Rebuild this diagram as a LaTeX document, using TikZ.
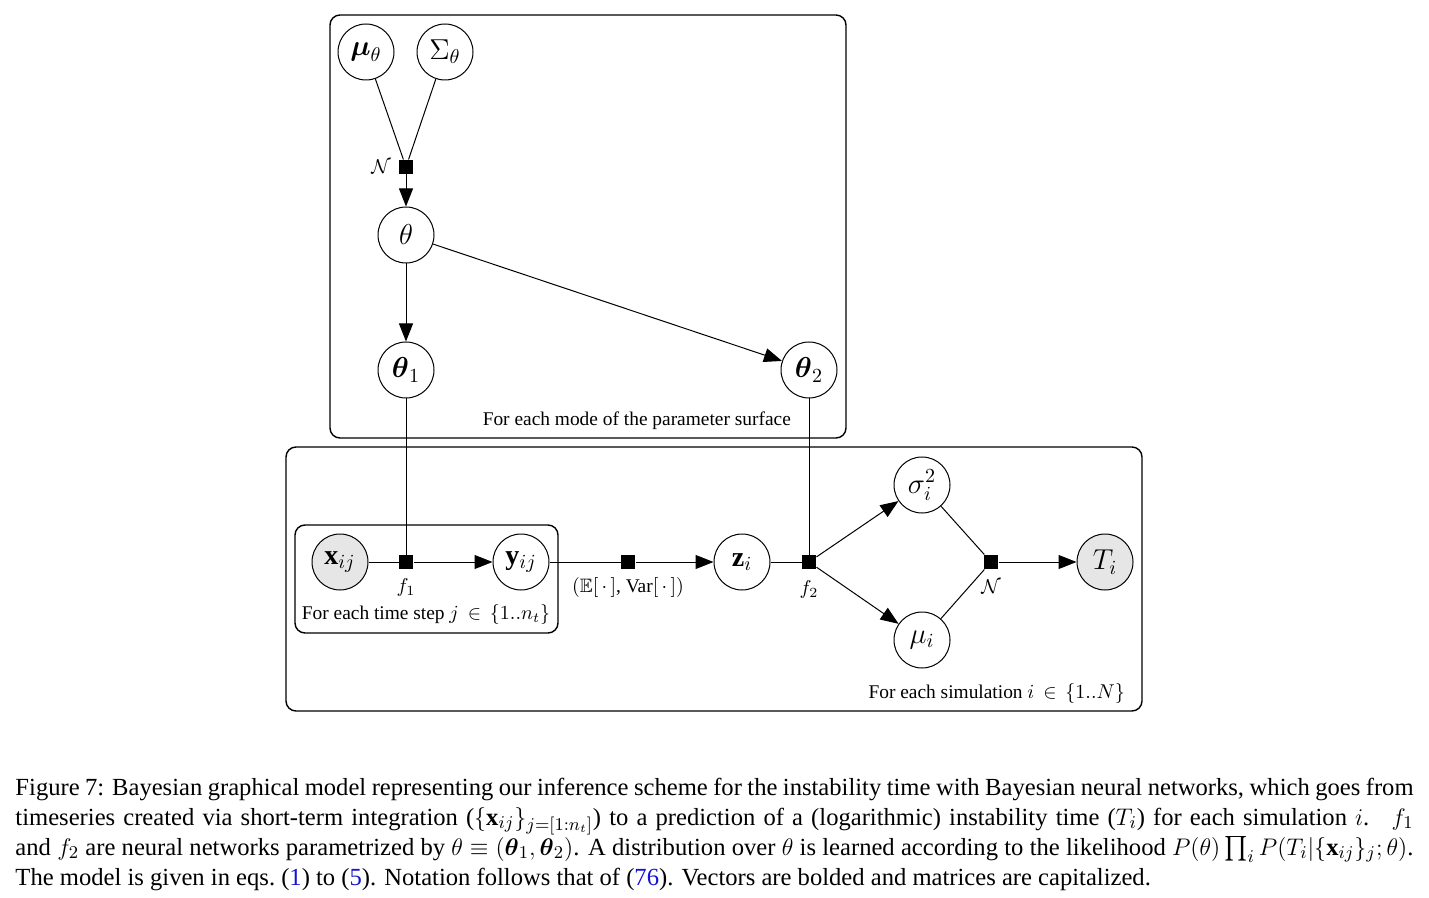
\documentclass[tikz,border=0pt]{standalone}
\usepackage{amsmath,amssymb}
\usepackage{fontspec}
\setmainfont{Liberation Serif}
\usetikzlibrary{positioning,arrows.meta}
\definecolor{ObsGray}{RGB}{230,230,230}
\definecolor{RefBlue}{RGB}{20,20,210}

\begin{document}
\begin{tikzpicture}[x=0.5pt, y=-0.5pt, line width=0.5pt,
  every node/.style={font=\fontsize{9.7}{12}\selectfont},
  latent/.style={draw, circle, minimum size=28pt, inner sep=0pt, fill=white, font=\fontsize{14}{16}\selectfont},
  obs/.style={latent, fill=ObsGray},
  factor/.style={fill=black, rectangle, minimum size=7pt, inner sep=0pt},
  plate/.style={draw, rounded corners=5pt, line width=0.7pt},
  arr/.style={-{Triangle[length=9pt,width=7pt]}},
  caption/.style={anchor=base west, inner sep=0pt, font=\fontsize{12.3}{14}\selectfont}]
  \useasboundingbox (0,0) rectangle (1429,898);

  % plates
  \draw[plate] (330,15) rectangle (846,438);
  \draw[plate] (286,447) rectangle (1142,711);
  \draw[plate] (295,525) rectangle (558,633);
  \node[anchor=base east] (modelab) at (798,426) {For each mode of the parameter surface};
  \node[anchor=base] (steplab) at (426,619) {For each time step $j\,\in\,\{1..n_t\}$};
  \node[anchor=base east] (simlab) at (1132,698) {For each simulation $i\,\in\,\{1..N\}$};

  % parameters
  \node[latent] (mu) at (366,52) {$\boldsymbol{\mu}_\theta$};
  \node[latent] (Sig) at (445,52) {$\Sigma_\theta$};
  \node[factor] (nt) at (406,167) {};
  \node (ntlab) at (381,167) {$\mathcal{N}$};
  \node[latent] (theta) at (406,235) {$\theta$};
  \node[latent] (th1) at (406,370) {$\boldsymbol{\theta}_1$};
  \node[latent] (th2) at (809,370) {$\boldsymbol{\theta}_2$};

  % per simulation
  \node[obs] (x) at (340,562) {$\mathbf{x}_{ij}$};
  \node[factor] (f1) at (406,562) {};
  \node (f1lab) at (406,587) {$f_1$};
  \node[latent] (y) at (521,562) {$\mathbf{y}_{ij}$};
  \node[factor] (agg) at (628,562) {};
  \node (agglab) at (628,587) {$(\mathbb{E}[\,\cdot\,]$, Var$[\,\cdot\,])$};
  \node[latent] (z) at (742,562) {$\mathbf{z}_i$};
  \node[factor] (f2) at (809,562) {};
  \node (f2lab) at (809,589) {$f_2$};
  \node[latent] (sig) at (922,485) {$\sigma_i^2$};
  \node[latent] (mui) at (922,640) {$\mu_i$};
  \node[factor] (nT) at (991,562) {};
  \node (nTlab) at (991,587) {$\mathcal{N}$};
  \node[obs] (T) at (1105,562) {$T_i$};

  \draw (mu) -- (nt);
  \draw (Sig) -- (nt);
  \draw[arr] (nt) -- (theta);
  \draw[arr] (theta) -- (th1);
  \draw[arr] (theta) -- (th2);
  \draw (th1) -- (f1);
  \draw (th2) -- (f2);
  \draw (x) -- (f1);
  \draw[arr] (f1) -- (y);
  \draw (y) -- (agg);
  \draw[arr] (agg) -- (z);
  \draw (z) -- (f2);
  \draw[arr] (f2) -- (sig);
  \draw[arr] (f2) -- (mui);
  \draw (sig) -- (nT);
  \draw (mui) -- (nT);
  \draw[arr] (nT) -- (T);

  % caption
  \node[caption] (cap1) at (15,795) {\makebox[699pt][s]{Figure 7: Bayesian graphical model representing our inference scheme for the instability time with Bayesian neural networks, which goes from}};
  \node[caption] (cap2) at (15,825) {\makebox[699pt][s]{timeseries created via short-term integration ($\{\mathbf{x}_{ij}\}_{j=[1:n_t]}$) to a prediction of a (logarithmic) instability time ($T_i$) for each simulation $i$. \ $f_1$}};
  \node[caption] (cap3) at (15,855) {\makebox[699pt][s]{and $f_2$ are neural networks parametrized by $\theta\equiv(\boldsymbol{\theta}_1,\boldsymbol{\theta}_2)$. A distribution over $\theta$ is learned according to the likelihood $P(\theta)\prod_i P(T_i|\{\mathbf{x}_{ij}\}_j;\theta)$.}};
  \node[caption] (cap4) at (15,885) {The model is given in eqs.\ (\textcolor{RefBlue}{1}) to (\textcolor{RefBlue}{5}). Notation follows that of (\textcolor{RefBlue}{76}). Vectors are bolded and matrices are capitalized.};
\end{tikzpicture}
\end{document}
